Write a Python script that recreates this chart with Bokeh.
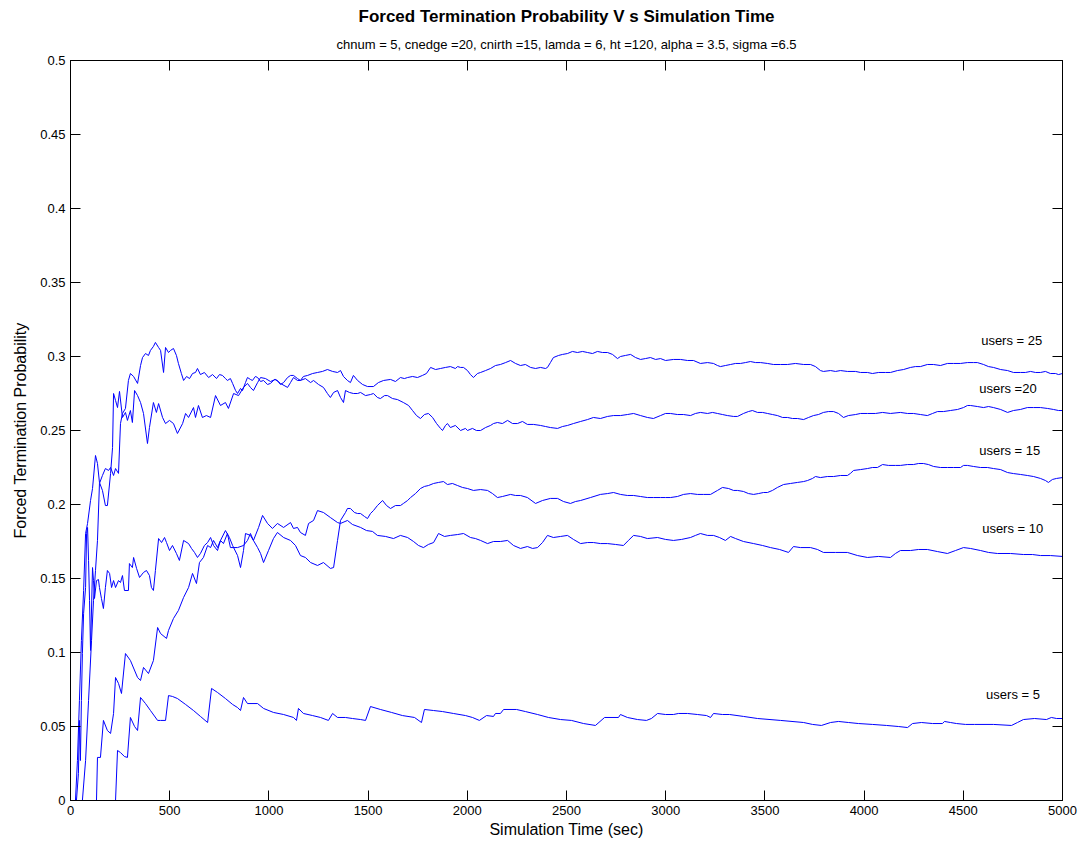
import math
from bokeh.plotting import figure
from bokeh.models import ColumnDataSource, FixedTicker, LinearAxis, Label, Range1d, Title
from bokeh.embed import file_html
from bokeh.resources import INLINE

# ---------------- data (time in sec, forced termination probability) ----------------
t25 = [0, 60, 76, 91, 106, 116, 126, 136, 146, 161,
       176, 192, 202, 217, 227, 242, 252, 262, 277, 292,
       302, 318, 338, 353, 363, 378, 393, 403, 418, 428,
       444, 454, 469, 479, 494, 504, 519, 534, 544, 559,
       570, 585, 600, 615, 630, 640, 655, 675, 696, 716,
       736, 751, 766, 781, 791, 806, 817, 832, 842, 857,
       867, 882, 892, 907, 917, 932, 943, 958, 973, 993,
       1008, 1028, 1043, 1058, 1074, 1094, 1109, 1124, 1144, 1159,
       1174, 1195, 1220, 1245, 1270, 1295, 1321, 1346, 1361, 1376,
       1396, 1411, 1426, 1447, 1472, 1497, 1527, 1552, 1578, 1613,
       1638, 1663, 1683, 1699, 1724, 1749, 1774, 1794, 1815, 1840,
       1865, 1890, 1915, 1940, 1951, 1966, 1981, 2001, 2016, 2031,
       2051, 2067, 2092, 2117, 2142, 2167, 2193, 2218, 2243, 2268,
       2293, 2319, 2344, 2369, 2394, 2404, 2419, 2434, 2460, 2480,
       2505, 2530, 2555, 2581, 2606, 2631, 2656, 2681, 2707, 2732,
       2757, 2772, 2797, 2823, 2848, 2873, 2898, 2923, 2949, 2974,
       2999, 3039, 3075, 3110, 3140, 3175, 3211, 3241, 3261, 3276,
       3301, 3327, 3352, 3377, 3402, 3427, 3453, 3478, 3513, 3543,
       3579, 3614, 3654, 3695, 3730, 3755, 3780, 3795, 3831, 3856,
       3881, 3916, 3957, 3982, 4017, 4042, 4073, 4108, 4133, 4168,
       4199, 4234, 4259, 4284, 4319, 4350, 4385, 4420, 4451, 4486,
       4521, 4551, 4571, 4602, 4627, 4652, 4688, 4723, 4753, 4788,
       4813, 4839, 4864, 4889, 4914, 4939, 4965, 4980, 5000]
p25 = [0, 0, 0.027, 0.0676, 0.1081, 0.1351, 0.1554, 0.1757, 0.2142, 0.2196,
       0.2243, 0.223, 0.225, 0.2196, 0.2243, 0.221, 0.2547, 0.2615, 0.2649, 0.2838,
       0.2885, 0.2865, 0.2818, 0.2939, 0.2993, 0.302, 0.3007, 0.3041, 0.3068, 0.3095,
       0.3061, 0.3041, 0.2892, 0.3061, 0.3027, 0.3041, 0.3054, 0.3007, 0.2953, 0.2885,
       0.2838, 0.2865, 0.2851, 0.2885, 0.2892, 0.2919, 0.2878, 0.2892, 0.2858, 0.2878,
       0.2851, 0.2878, 0.2872, 0.2851, 0.2838, 0.2851, 0.2818, 0.277, 0.275, 0.2784,
       0.277, 0.2824, 0.2858, 0.2845, 0.2838, 0.2865, 0.2858, 0.2831, 0.2838, 0.2811,
       0.2818, 0.2845, 0.2838, 0.2811, 0.2824, 0.2858, 0.2872, 0.2872, 0.2851, 0.2838,
       0.2865, 0.2872, 0.2885, 0.2892, 0.2899, 0.2912, 0.2899, 0.2892, 0.2905, 0.2865,
       0.2838, 0.2824, 0.2872, 0.2838, 0.2811, 0.2797, 0.2797, 0.2824, 0.2838, 0.2845,
       0.2831, 0.2858, 0.2851, 0.2858, 0.2865, 0.2858, 0.2872, 0.2885, 0.2926, 0.2912,
       0.2919, 0.2926, 0.2932, 0.2919, 0.2932, 0.2926, 0.2926, 0.2905, 0.2878, 0.2858,
       0.2885, 0.2892, 0.2905, 0.2919, 0.2939, 0.2946, 0.2959, 0.2973, 0.2953, 0.2939,
       0.2946, 0.2926, 0.2919, 0.2926, 0.2919, 0.2926, 0.2959, 0.2993, 0.3007, 0.3014,
       0.302, 0.3034, 0.3027, 0.3034, 0.3027, 0.302, 0.3034, 0.3027, 0.3027, 0.3014,
       0.2986, 0.3, 0.3007, 0.3014, 0.2993, 0.298, 0.2986, 0.2993, 0.298, 0.2986,
       0.2973, 0.298, 0.298, 0.2973, 0.2973, 0.2953, 0.2959, 0.2953, 0.2939, 0.2932,
       0.2939, 0.2946, 0.2953, 0.2953, 0.2959, 0.2966, 0.2959, 0.2959, 0.2953, 0.2946,
       0.2946, 0.2946, 0.2953, 0.2946, 0.2946, 0.2932, 0.2905, 0.2899, 0.2905, 0.2899,
       0.2905, 0.2899, 0.2899, 0.2892, 0.2892, 0.2885, 0.2892, 0.2892, 0.2892, 0.2905,
       0.2912, 0.2926, 0.2932, 0.2932, 0.2946, 0.2946, 0.2939, 0.2953, 0.2953, 0.2953,
       0.2959, 0.2959, 0.2959, 0.2946, 0.2932, 0.2926, 0.2912, 0.2905, 0.2892, 0.2892,
       0.2892, 0.2899, 0.2892, 0.2892, 0.2899, 0.2885, 0.2885, 0.2878, 0.2885]

t20 = [0, 25, 35, 45, 55, 66, 76, 86, 101, 111,
       126, 136, 146, 161, 176, 186, 202, 212, 217, 227,
       237, 247, 262, 277, 287, 302, 312, 323, 338, 353,
       368, 388, 398, 418, 433, 444, 464, 479, 499, 519,
       539, 565, 580, 595, 620, 630, 645, 665, 685, 706,
       731, 756, 781, 796, 822, 847, 872, 892, 907, 922,
       943, 958, 983, 1008, 1033, 1058, 1094, 1109, 1124, 1144,
       1159, 1184, 1210, 1225, 1250, 1275, 1295, 1310, 1326, 1346,
       1361, 1376, 1386, 1406, 1426, 1447, 1462, 1487, 1512, 1527,
       1547, 1562, 1583, 1598, 1623, 1648, 1678, 1704, 1724, 1744,
       1764, 1784, 1804, 1825, 1845, 1865, 1875, 1890, 1900, 1915,
       1940, 1966, 1991, 2001, 2026, 2046, 2067, 2092, 2117, 2132,
       2152, 2177, 2203, 2228, 2253, 2278, 2303, 2334, 2369, 2394,
       2419, 2455, 2480, 2505, 2535, 2571, 2606, 2636, 2671, 2707,
       2737, 2772, 2807, 2838, 2873, 2908, 2938, 2974, 2999, 3024,
       3059, 3090, 3125, 3150, 3175, 3211, 3236, 3261, 3286, 3311,
       3342, 3362, 3392, 3417, 3437, 3463, 3488, 3513, 3538, 3563,
       3589, 3614, 3639, 3664, 3695, 3720, 3745, 3770, 3795, 3820,
       3846, 3871, 3896, 3921, 3957, 3982, 4017, 4057, 4093, 4133,
       4183, 4219, 4249, 4284, 4319, 4345, 4370, 4400, 4435, 4471,
       4501, 4521, 4536, 4571, 4602, 4627, 4652, 4688, 4723, 4753,
       4788, 4823, 4854, 4889, 4924, 4955, 4980, 5000]
p20 = [0, 0, 0.027, 0.0676, 0.1081, 0.1419, 0.1804, 0.1872, 0.2027, 0.2108,
       0.2331, 0.2277, 0.2149, 0.2095, 0.1993, 0.1993, 0.221, 0.2385, 0.275, 0.2703,
       0.2655, 0.2764, 0.2588, 0.2622, 0.2568, 0.2635, 0.2554, 0.277, 0.2736, 0.2689,
       0.2615, 0.2412, 0.252, 0.2689, 0.2622, 0.2682, 0.2588, 0.2547, 0.2568, 0.2547,
       0.248, 0.2547, 0.2615, 0.2588, 0.2655, 0.2588, 0.2669, 0.2588, 0.2601, 0.2588,
       0.2736, 0.2669, 0.2689, 0.2649, 0.275, 0.2736, 0.2791, 0.2818, 0.2791, 0.277,
       0.2824, 0.2858, 0.2851, 0.2831, 0.2845, 0.2818, 0.2791, 0.2824, 0.2858, 0.2838,
       0.2838, 0.2851, 0.2824, 0.2838, 0.2811, 0.2791, 0.275, 0.2723, 0.2757, 0.277,
       0.2723, 0.2689, 0.277, 0.2757, 0.275, 0.275, 0.2757, 0.2736, 0.2743, 0.275,
       0.2723, 0.2716, 0.2736, 0.2736, 0.2716, 0.2709, 0.2689, 0.2669, 0.2635, 0.2601,
       0.2581, 0.2608, 0.2615, 0.2588, 0.2547, 0.2514, 0.25, 0.2534, 0.2547, 0.252,
       0.2534, 0.25, 0.2514, 0.25, 0.2514, 0.25, 0.25, 0.252, 0.2534, 0.2547,
       0.2554, 0.2547, 0.2568, 0.2547, 0.2547, 0.2561, 0.2541, 0.2541, 0.2534, 0.2527,
       0.252, 0.2514, 0.2527, 0.2534, 0.2547, 0.2561, 0.2574, 0.2588, 0.2581, 0.2595,
       0.2601, 0.2601, 0.2608, 0.2615, 0.2601, 0.2588, 0.2581, 0.2601, 0.2615, 0.2615,
       0.2608, 0.2608, 0.2601, 0.2615, 0.2622, 0.2615, 0.2622, 0.2615, 0.2608, 0.2601,
       0.2595, 0.2595, 0.2615, 0.2628, 0.2635, 0.2622, 0.2622, 0.2615, 0.2608, 0.2601,
       0.2588, 0.2588, 0.2581, 0.2581, 0.2574, 0.2588, 0.2601, 0.2608, 0.2622, 0.2628,
       0.2628, 0.2615, 0.2588, 0.2601, 0.2608, 0.2615, 0.2615, 0.2615, 0.2622, 0.2615,
       0.2622, 0.2615, 0.2615, 0.2608, 0.2601, 0.2615, 0.2628, 0.2628, 0.2635, 0.2642,
       0.2655, 0.2669, 0.2669, 0.2662, 0.2655, 0.2662, 0.2655, 0.2642, 0.2622, 0.2635,
       0.2642, 0.2655, 0.2655, 0.2655, 0.2649, 0.2642, 0.2635, 0.2635]

t15 = [0, 131, 136, 151, 166, 186, 202, 217, 227, 242,
       257, 277, 302, 338, 353, 368, 393, 418, 439, 454,
       484, 494, 519, 544, 570, 595, 615, 635, 650, 670,
       691, 706, 721, 741, 756, 771, 791, 806, 842, 872,
       892, 907, 922, 943, 958, 973, 998, 1023, 1043, 1074,
       1109, 1134, 1159, 1184, 1210, 1245, 1275, 1310, 1326, 1346,
       1361, 1386, 1396, 1411, 1431, 1447, 1462, 1482, 1497, 1512,
       1527, 1547, 1573, 1593, 1613, 1638, 1663, 1678, 1699, 1714,
       1739, 1764, 1784, 1804, 1830, 1855, 1880, 1900, 1925, 1951,
       1976, 2001, 2031, 2067, 2102, 2127, 2152, 2177, 2218, 2243,
       2268, 2303, 2344, 2379, 2419, 2455, 2485, 2520, 2545, 2571,
       2621, 2671, 2707, 2737, 2772, 2807, 2838, 2873, 2908, 2938,
       2974, 2999, 3024, 3059, 3090, 3125, 3160, 3191, 3226, 3261,
       3286, 3317, 3342, 3362, 3392, 3417, 3443, 3468, 3493, 3513,
       3538, 3563, 3594, 3629, 3664, 3695, 3715, 3740, 3755, 3780,
       3815, 3846, 3881, 3916, 3931, 3947, 3982, 4017, 4042, 4067,
       4093, 4123, 4158, 4183, 4219, 4249, 4274, 4299, 4324, 4350,
       4385, 4420, 4451, 4486, 4501, 4521, 4551, 4587, 4622, 4652,
       4688, 4723, 4753, 4788, 4823, 4854, 4889, 4914, 4929, 4949,
       4970, 5000]
p15 = [0, 0, 0.0291, 0.0291, 0.0541, 0.0473, 0.0453, 0.0588, 0.0831, 0.0791,
       0.0723, 0.0993, 0.0946, 0.0831, 0.0811, 0.0899, 0.0858, 0.0946, 0.1169, 0.1128,
       0.1095, 0.1149, 0.123, 0.1284, 0.1372, 0.1439, 0.1534, 0.1466, 0.1608, 0.1642,
       0.1723, 0.1709, 0.1757, 0.1709, 0.1757, 0.1736, 0.1804, 0.1709, 0.1709, 0.1723,
       0.1757, 0.1804, 0.1757, 0.1709, 0.1669, 0.1608, 0.1689, 0.177, 0.1811, 0.1777,
       0.1757, 0.1723, 0.1655, 0.1642, 0.1608, 0.1588, 0.1608, 0.1568, 0.1574, 0.1757,
       0.1892, 0.1946, 0.1973, 0.1973, 0.1946, 0.1939, 0.1939, 0.1919, 0.1905, 0.1939,
       0.1959, 0.1993, 0.2027, 0.1993, 0.1973, 0.1993, 0.1993, 0.2007, 0.2027, 0.2047,
       0.2074, 0.2108, 0.2122, 0.2128, 0.2142, 0.2149, 0.2155, 0.2135, 0.2142, 0.2128,
       0.2115, 0.2108, 0.2095, 0.2101, 0.2095, 0.2074, 0.2047, 0.2054, 0.2068, 0.2061,
       0.2061, 0.2047, 0.2007, 0.2027, 0.2041, 0.2041, 0.202, 0.2007, 0.202, 0.2027,
       0.2047, 0.2068, 0.2074, 0.2081, 0.2068, 0.2061, 0.2061, 0.2054, 0.2047, 0.2047,
       0.2047, 0.2047, 0.2047, 0.2054, 0.2068, 0.2074, 0.2068, 0.2068, 0.2068, 0.2095,
       0.2115, 0.2108, 0.2095, 0.2095, 0.2088, 0.2074, 0.2068, 0.2074, 0.2081, 0.2081,
       0.2095, 0.2115, 0.2135, 0.2142, 0.2149, 0.2155, 0.2162, 0.2176, 0.2189, 0.2182,
       0.2189, 0.2189, 0.2196, 0.2196, 0.221, 0.223, 0.2236, 0.2243, 0.225, 0.225,
       0.227, 0.2264, 0.2264, 0.2264, 0.227, 0.227, 0.2277, 0.2277, 0.227, 0.2257,
       0.225, 0.225, 0.225, 0.225, 0.2264, 0.2264, 0.2257, 0.225, 0.225, 0.2243,
       0.2236, 0.2216, 0.2209, 0.2203, 0.2196, 0.2189, 0.2176, 0.2162, 0.2149, 0.2169,
       0.2176, 0.2182]

t10 = [0, 30, 40, 45, 50, 55, 60, 66, 76, 81,
       86, 91, 96, 101, 111, 116, 121, 131, 141, 146,
       156, 166, 176, 186, 197, 207, 217, 227, 242, 252,
       262, 272, 292, 297, 312, 318, 333, 348, 368, 383,
       398, 408, 418, 428, 444, 459, 474, 484, 499, 514,
       534, 549, 570, 595, 610, 625, 640, 655, 675, 691,
       706, 721, 741, 756, 781, 801, 817, 842, 857, 872,
       882, 907, 922, 948, 968, 993, 1018, 1043, 1074, 1109,
       1124, 1144, 1159, 1184, 1200, 1225, 1245, 1275, 1310, 1346,
       1361, 1396, 1421, 1462, 1492, 1522, 1547, 1588, 1628, 1663,
       1699, 1729, 1754, 1779, 1804, 1830, 1855, 1885, 1915, 1951,
       1981, 2016, 2041, 2067, 2102, 2132, 2167, 2203, 2233, 2268,
       2303, 2329, 2354, 2379, 2404, 2434, 2470, 2505, 2535, 2571,
       2606, 2636, 2671, 2707, 2747, 2787, 2812, 2838, 2873, 2908,
       2959, 2999, 3039, 3080, 3125, 3150, 3175, 3211, 3241, 3271,
       3301, 3327, 3352, 3392, 3443, 3488, 3528, 3574, 3619, 3644,
       3679, 3730, 3765, 3795, 3856, 3916, 3967, 4017, 4073, 4133,
       4158, 4183, 4234, 4274, 4319, 4370, 4420, 4461, 4501, 4536,
       4587, 4627, 4672, 4738, 4803, 4849, 4889, 4939, 5000]
p10 = [0, 0, 0.0182, 0.0541, 0.027, 0.0676, 0.0993, 0.1264, 0.1439, 0.1804,
       0.1845, 0.1622, 0.1351, 0.1014, 0.1574, 0.1486, 0.1365, 0.1486, 0.1493, 0.1439,
       0.1365, 0.1297, 0.1439, 0.1554, 0.1534, 0.1439, 0.1486, 0.1439, 0.1486, 0.1473,
       0.152, 0.1419, 0.1419, 0.1601, 0.1574, 0.1642, 0.1568, 0.1507, 0.1541, 0.1554,
       0.152, 0.1439, 0.1419, 0.1554, 0.177, 0.1743, 0.1777, 0.1743, 0.1689, 0.1723,
       0.1669, 0.1622, 0.1757, 0.1736, 0.1703, 0.1676, 0.1642, 0.1669, 0.1723, 0.1743,
       0.1777, 0.1723, 0.1689, 0.1757, 0.1824, 0.1777, 0.1723, 0.1655, 0.1574, 0.1689,
       0.1804, 0.1791, 0.1757, 0.1845, 0.1926, 0.1872, 0.1838, 0.1872, 0.1845, 0.1878,
       0.1838, 0.1845, 0.1811, 0.1791, 0.1872, 0.1892, 0.1959, 0.1946, 0.1912, 0.1878,
       0.1872, 0.1892, 0.1865, 0.1845, 0.1824, 0.1818, 0.1791, 0.1784, 0.177, 0.1791,
       0.1777, 0.175, 0.1723, 0.1709, 0.173, 0.1743, 0.1804, 0.1784, 0.1791, 0.1797,
       0.1804, 0.1777, 0.177, 0.1757, 0.1736, 0.175, 0.175, 0.1757, 0.1723, 0.1703,
       0.1716, 0.1703, 0.1709, 0.1743, 0.1791, 0.1777, 0.1784, 0.1791, 0.1764, 0.1736,
       0.1743, 0.1743, 0.1736, 0.1736, 0.173, 0.1723, 0.1757, 0.1791, 0.1784, 0.177,
       0.1777, 0.1764, 0.1757, 0.1764, 0.1777, 0.1791, 0.1804, 0.1791, 0.1791, 0.1777,
       0.1757, 0.1784, 0.177, 0.175, 0.1736, 0.1723, 0.1709, 0.1696, 0.1676, 0.1716,
       0.1709, 0.1709, 0.1696, 0.1676, 0.1676, 0.1676, 0.1655, 0.1642, 0.1649, 0.1642,
       0.1669, 0.1689, 0.1689, 0.1696, 0.1696, 0.1682, 0.1669, 0.1689, 0.1709, 0.1703,
       0.1689, 0.1676, 0.1669, 0.1669, 0.1662, 0.1662, 0.1655, 0.1655, 0.1649]

t5 = [0, 227, 237, 252, 272, 287, 302, 323, 338, 353,
      378, 403, 439, 454, 479, 494, 514, 539, 580, 620,
      655, 691, 711, 741, 781, 817, 842, 857, 872, 892,
      943, 973, 1023, 1074, 1124, 1139, 1149, 1174, 1220, 1260,
      1300, 1321, 1346, 1386, 1421, 1462, 1487, 1512, 1562, 1618,
      1673, 1734, 1769, 1784, 1830, 1875, 1930, 1991, 2026, 2061,
      2097, 2132, 2142, 2167, 2183, 2248, 2293, 2354, 2409, 2470,
      2525, 2586, 2646, 2692, 2762, 2772, 2807, 2858, 2903, 2928,
      2959, 2999, 3039, 3064, 3110, 3160, 3206, 3226, 3241, 3286,
      3322, 3392, 3463, 3579, 3695, 3740, 3785, 3831, 3871, 3921,
      3972, 4042, 4113, 4173, 4219, 4244, 4289, 4345, 4395, 4405,
      4435, 4466, 4511, 4556, 4652, 4743, 4773, 4803, 4859, 4919,
      4944, 4970, 5000]
p5 = [0, 0, 0.0338, 0.0324, 0.0297, 0.0291, 0.0561, 0.05, 0.0473, 0.0696,
      0.0655, 0.0608, 0.0541, 0.0541, 0.0541, 0.0709, 0.0703, 0.0689, 0.0649, 0.0608,
      0.0568, 0.0527, 0.0757, 0.073, 0.0689, 0.0649, 0.0628, 0.0608, 0.0696, 0.0655,
      0.0655, 0.0622, 0.0595, 0.0581, 0.0561, 0.0541, 0.0622, 0.0588, 0.0574, 0.0561,
      0.0541, 0.0588, 0.0561, 0.0561, 0.0554, 0.0547, 0.0541, 0.0635, 0.0615, 0.0595,
      0.0574, 0.0561, 0.0527, 0.0615, 0.0608, 0.0601, 0.0588, 0.0574, 0.0561, 0.0541,
      0.0574, 0.0568, 0.0588, 0.0588, 0.0615, 0.0615, 0.0601, 0.0581, 0.0561, 0.0547,
      0.0541, 0.052, 0.0507, 0.0561, 0.0561, 0.0581, 0.0561, 0.0547, 0.0541, 0.0554,
      0.0588, 0.0581, 0.0581, 0.0588, 0.0588, 0.0581, 0.0574, 0.0561, 0.0588, 0.0581,
      0.0581, 0.0568, 0.0554, 0.0541, 0.0527, 0.0514, 0.0507, 0.0527, 0.0534, 0.0527,
      0.052, 0.0514, 0.0507, 0.05, 0.0493, 0.052, 0.0527, 0.052, 0.052, 0.0534,
      0.0527, 0.052, 0.0514, 0.0514, 0.0514, 0.0507, 0.0527, 0.0547, 0.0554, 0.0547,
      0.0561, 0.0554, 0.0554]

series_labels = ["users = 25", "users =20", "users = 15", "users = 10", "users = 5"]
label_time = [4590, 4580, 4580, 4595, 4615]
label_prob = [0.3108, 0.2784, 0.2365, 0.1838, 0.0716]

x_ticks = [0, 500, 1000, 1500, 2000, 2500, 3000, 3500, 4000, 4500, 5000]
x_tick_labels = ["0", "500", "1000", "1500", "2000", "2500", "3000", "3500", "4000", "4500", "5000"]
y_ticks = [0, 0.05, 0.1, 0.15, 0.2, 0.25, 0.3, 0.35, 0.4, 0.45, 0.5]
y_tick_labels = ["0", "0.05", "0.1", "0.15", "0.2", "0.25", "0.3", "0.35", "0.4", "0.45", "0.5"]

title_text = "Forced Termination Probability V s Simulation Time"
subtitle_text = "chnum = 5, cnedge =20, cnirth =15, lamda = 6, ht =120, alpha = 3.5, sigma =6.5"
x_label_text = "Simulation Time (sec)"
y_label_text = "Forced Termination Probability"

# ---------------- figure ----------------
FONT = "Liberation Sans"
BLUE = "#0000ff"

p = figure(width=1080, height=841,
           x_range=Range1d(0, 5000), y_range=Range1d(0, 0.5),
           output_backend="svg", toolbar_location=None,
           min_border_left=70, min_border_right=18,
           min_border_top=60, min_border_bottom=41)
p.title.text = ""
p.title.visible = False
p.background_fill_color = "white"
p.border_fill_color = "white"
p.outline_line_color = "black"
p.outline_line_width = 1
p.xgrid.visible = False
p.ygrid.visible = False

p.xaxis.ticker = FixedTicker(ticks=x_ticks)
p.yaxis.ticker = FixedTicker(ticks=y_ticks)
p.xaxis.major_label_overrides = {v: s for v, s in zip(x_ticks, x_tick_labels)}
p.yaxis.major_label_overrides = {v: s for v, s in zip(y_ticks, y_tick_labels)}
for ax in (p.xaxis, p.yaxis):
    ax.major_tick_in = 10
    ax.major_tick_out = 0
    ax.minor_tick_line_color = None
    ax.axis_line_color = "black"
    ax.major_tick_line_color = "black"
    ax.major_label_text_font = FONT
    ax.major_label_text_font_size = "13px"
    ax.major_label_text_color = "black"
    ax.major_label_standoff = 5
    ax.axis_label_text_font = FONT
    ax.axis_label_text_font_size = "16px"
    ax.axis_label_text_font_style = "normal"
    ax.axis_label_text_color = "black"

p.xaxis.axis_label = x_label_text
p.xaxis.axis_label_standoff = 3
p.yaxis.axis_label = y_label_text
p.yaxis.axis_label_standoff = 8

top_axis = LinearAxis(ticker=FixedTicker(ticks=x_ticks),
                      major_label_overrides={v: "" for v in x_ticks},
                      major_label_text_font_size="1px", major_label_standoff=0,
                      major_tick_in=10, major_tick_out=0,
                      minor_tick_line_color=None,
                      axis_line_color="black", major_tick_line_color="black")
p.add_layout(top_axis, "above")
right_axis = LinearAxis(ticker=FixedTicker(ticks=y_ticks),
                        major_label_overrides={v: "" for v in y_ticks},
                        major_label_text_font_size="1px", major_label_standoff=0,
                        major_tick_in=10, major_tick_out=0,
                        minor_tick_line_color=None,
                        axis_line_color="black", major_tick_line_color="black")
p.add_layout(right_axis, "right")

# subtitle first (closest to the frame), then the main title
p.add_layout(Title(text=subtitle_text, align="center", text_font=FONT,
                   text_font_size="13px", text_font_style="normal",
                   text_color="black", standoff=17), "above")
p.add_layout(Title(text=title_text, align="center", text_font=FONT,
                   text_font_size="17px", text_font_style="bold",
                   text_color="black", standoff=1), "above")

for tt, pp in [(t25, p25), (t20, p20), (t15, p15), (t10, p10), (t5, p5)]:
    n = min(len(tt), len(pp))
    src = ColumnDataSource(data=dict(t=tt[:n], v=pp[:n]))
    p.line("t", "v", source=src, line_color=BLUE, line_width=1)

for txt, lx, ly in zip(series_labels, label_time, label_prob):
    p.add_layout(Label(x=lx, y=ly, text=txt, text_font=FONT, text_font_size="13px",
                       text_color="black", text_align="left", text_baseline="middle"))

open("out.html", "w").write(file_html(p, INLINE))
